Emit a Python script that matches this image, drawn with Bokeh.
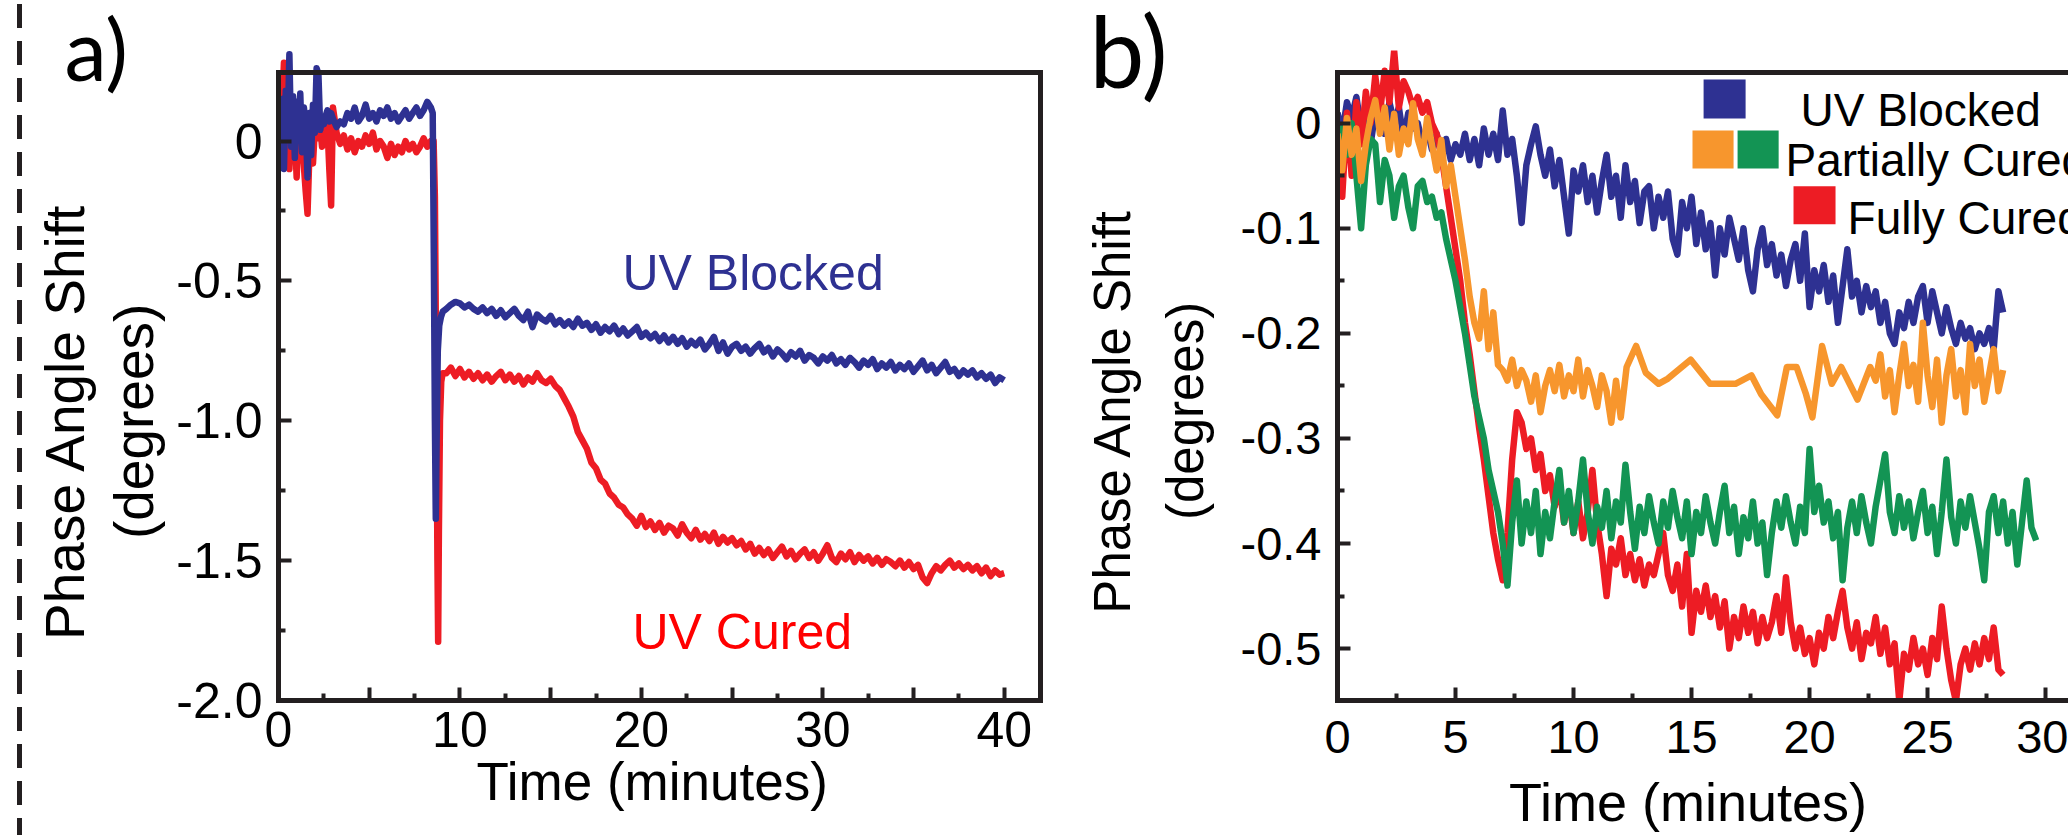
import numpy as np
from bokeh.plotting import figure
from bokeh.models import Label, FixedTicker, LinearAxis, BoxAnnotation, Range1d, Div, Span, Title
from bokeh.layouts import row
from bokeh.embed import file_html
from bokeh.resources import INLINE


def grid(start, step, vals):
    return [round(start + step * i, 4) for i in range(len(vals))]


# ---------------- Panel a data (Time in minutes, phase shift in degrees) ----------------
a_blue_early = [0.05, -0.05, 0.15, -0.10, 0.18, 0.02, 0.31, -0.02, 0.16, -0.06,
                0.14, 0.03, 0.17, -0.04, 0.12, 0.06, -0.13, 0.10, -0.05, 0.13,
                0.03, 0.26, 0.24, 0.04, 0.08, 0.06, 0.09, 0.11, 0.07, 0.10,
                0.08]
a_blue_flat = [0.05, 0.07, 0.06, 0.10, 0.08, 0.12, 0.07, 0.09, 0.13, 0.08,
               0.10, 0.07, 0.11, 0.09, 0.12, 0.08, 0.10, 0.07, 0.09, 0.11,
               0.08, 0.10, 0.12, 0.09, 0.11, 0.14, 0.12]
a_blue_drop_t = [8.5, 8.56, 8.62, 8.67, 8.72, 8.78, 8.86, 8.95, 9.05]
a_blue_drop_v = [0.10, -0.4, -1.0, -1.35, -1.05, -0.75, -0.66, -0.63, -0.61]
a_blue_late = [-0.60, -0.585, -0.575, -0.58, -0.595, -0.585, -0.60, -0.61,
               -0.595, -0.615, -0.60, -0.625, -0.605, -0.63, -0.615, -0.60,
               -0.625, -0.64, -0.61, -0.665, -0.62, -0.635, -0.645, -0.625,
               -0.655, -0.64, -0.66, -0.645, -0.665, -0.635, -0.66, -0.65,
               -0.675, -0.655, -0.685, -0.665, -0.68, -0.66, -0.69, -0.67,
               -0.695, -0.68, -0.665, -0.70, -0.685, -0.705, -0.69, -0.715,
               -0.695, -0.72, -0.70, -0.725, -0.705, -0.735, -0.715, -0.73,
               -0.71, -0.745, -0.725, -0.70, -0.75, -0.72, -0.76, -0.735,
               -0.725, -0.75, -0.735, -0.76, -0.74, -0.725, -0.755, -0.74,
               -0.77, -0.745, -0.76, -0.78, -0.755, -0.77, -0.75, -0.785,
               -0.765, -0.775, -0.795, -0.77, -0.785, -0.765, -0.795, -0.78,
               -0.80, -0.775, -0.79, -0.81, -0.785, -0.80, -0.78, -0.815,
               -0.795, -0.81, -0.79, -0.82, -0.80, -0.815, -0.795, -0.825,
               -0.805, -0.785, -0.82, -0.80, -0.83, -0.81, -0.79, -0.825,
               -0.815, -0.84, -0.82, -0.835, -0.82, -0.845, -0.83, -0.85,
               -0.835, -0.865, -0.845, -0.855]

a_red_early = [0.02, -0.06, 0.12, 0.28, -0.04, 0.06, -0.10, 0.07, -0.03, 0.03,
               -0.13, 0.05, -0.07, 0.02, -0.09, -0.18, -0.26, -0.05, 0.06, -0.08,
               0.04, 0.09, 0.01, 0.05, -0.02, 0.04, 0.00, 0.05, -0.10, -0.23,
               0.12]
a_red_flat = [0.03, -0.01, 0.02, -0.03, 0.01, -0.04, 0.00, -0.02, 0.02, -0.01,
              0.03, -0.03, 0.00, -0.02, -0.06, -0.01, -0.05, -0.02, -0.04, 0.00,
              -0.03, -0.01, -0.04, -0.02, 0.01, -0.02, 0.00]
a_red_drop_t = [8.55, 8.62, 8.7, 8.76, 8.8, 8.84, 8.9, 8.97, 9.05]
a_red_drop_v = [0.0, -0.2, -0.9, -1.5, -1.79, -1.4, -1.0, -0.86, -0.83]
a_red_late = [-0.83, -0.81, -0.84, -0.815, -0.845, -0.825, -0.85, -0.83,
              -0.855, -0.835, -0.86, -0.84, -0.825, -0.855, -0.835, -0.86,
              -0.84, -0.87, -0.845, -0.86, -0.83, -0.855, -0.865, -0.85,
              -0.875, -0.89, -0.92, -0.95, -0.985, -1.04, -1.07, -1.10,
              -1.15, -1.17, -1.21, -1.225, -1.26, -1.275, -1.30, -1.31,
              -1.335, -1.35, -1.375, -1.34, -1.38, -1.36, -1.39, -1.365,
              -1.40, -1.375, -1.385, -1.41, -1.37, -1.40, -1.42, -1.39,
              -1.425, -1.405, -1.43, -1.40, -1.44, -1.415, -1.435, -1.42,
              -1.445, -1.43, -1.46, -1.44, -1.475, -1.455, -1.48, -1.46,
              -1.49, -1.47, -1.45, -1.485, -1.465, -1.495, -1.475, -1.46,
              -1.49, -1.47, -1.50, -1.475, -1.445, -1.49, -1.505, -1.475,
              -1.495, -1.47, -1.505, -1.48, -1.50, -1.485, -1.51, -1.49,
              -1.515, -1.495, -1.505, -1.52, -1.50, -1.525, -1.505, -1.53,
              -1.515, -1.56, -1.58, -1.545, -1.52, -1.535, -1.515, -1.50,
              -1.525, -1.51, -1.53, -1.515, -1.535, -1.52, -1.545, -1.525,
              -1.555, -1.535, -1.55, -1.545]

a_xticks = [0, 5, 10, 15, 20, 25, 30, 35, 40]
a_xlabels = ["0", "", "10", "", "20", "", "30", "", "40"]
a_xminor = [2.5, 7.5, 12.5, 17.5, 22.5, 27.5, 32.5, 37.5]
a_yticks = [0, -0.5, -1.0, -1.5, -2.0]
a_ylabels = ["0", "-0.5", "-1.0", "-1.5", "-2.0"]
a_yminor = [-0.25, -0.75, -1.25, -1.75]

# ---------------- Panel b data ----------------
b_blue = [0.01, -0.01, 0.02, 0.005, 0.025, -0.005, 0.015, -0.02, 0.01, 0.025,
          -0.01, 0.02, 0.0, 0.015, -0.015, 0.01, -0.005, 0.0, -0.02, -0.005,
          -0.025, -0.01, -0.03, -0.015, -0.035, -0.02, -0.03, -0.01, -0.035, -0.015,
          -0.04, -0.005, -0.03, -0.01, -0.035, 0.012, -0.03, -0.015, -0.05, -0.095,
          -0.04, -0.02, -0.003, -0.03, -0.05, -0.025, -0.06, -0.035, -0.07, -0.105,
          -0.045, -0.065, -0.04, -0.075, -0.05, -0.085, -0.055, -0.03, -0.07, -0.05,
          -0.09, -0.04, -0.075, -0.055, -0.095, -0.065, -0.06, -0.1, -0.07, -0.09,
          -0.065, -0.11, -0.125, -0.075, -0.1, -0.07, -0.115, -0.085, -0.12, -0.095,
          -0.145, -0.1, -0.125, -0.09, -0.11, -0.13, -0.1, -0.14, -0.16, -0.12,
          -0.1, -0.135, -0.115, -0.145, -0.125, -0.155, -0.13, -0.115, -0.15, -0.105,
          -0.175, -0.14, -0.16, -0.135, -0.17, -0.145, -0.19, -0.155, -0.12, -0.165,
          -0.15, -0.18, -0.155, -0.175, -0.16, -0.19, -0.17, -0.2, -0.21, -0.18,
          -0.195, -0.17, -0.19, -0.165, -0.155, -0.19, -0.16, -0.18, -0.2, -0.175,
          -0.195, -0.21, -0.19, -0.205, -0.195, -0.215, -0.2, -0.21, -0.195, -0.215,
          -0.16, -0.18]

b_red_early = [-0.01, -0.07, 0.01, -0.05, 0.02, -0.02, 0.03, 0.0, 0.045, 0.01,
               0.05, 0.02, 0.069, 0.015, 0.04, 0.03, 0.015, 0.025, 0.01, 0.02,
               0.0, -0.01, -0.03, -0.06, -0.09]
b_red_late = [-0.12, -0.15, -0.19, -0.22, -0.255, -0.29, -0.32, -0.355, -0.39, -0.415,
              -0.435, -0.39, -0.32, -0.275, -0.285, -0.31, -0.3, -0.33, -0.315, -0.35,
              -0.335, -0.365, -0.345, -0.38, -0.355, -0.39, -0.36, -0.395, -0.37, -0.33,
              -0.38, -0.41, -0.45, -0.405, -0.42, -0.395, -0.43, -0.41, -0.435, -0.415,
              -0.44, -0.42, -0.43, -0.41, -0.39, -0.43, -0.445, -0.42, -0.46, -0.41,
              -0.485, -0.445, -0.465, -0.44, -0.47, -0.45, -0.48, -0.455, -0.5, -0.47,
              -0.49, -0.46, -0.485, -0.465, -0.495, -0.47, -0.49, -0.475, -0.45, -0.485,
              -0.432, -0.475, -0.5, -0.48, -0.505, -0.49, -0.515, -0.485, -0.5, -0.47,
              -0.49, -0.465, -0.445, -0.48, -0.5, -0.475, -0.51, -0.485, -0.495, -0.47,
              -0.505, -0.48, -0.515, -0.495, -0.55, -0.505, -0.52, -0.49, -0.515, -0.5,
              -0.525, -0.49, -0.51, -0.46, -0.5, -0.53, -0.55, -0.515, -0.5, -0.52,
              -0.495, -0.515, -0.49, -0.51, -0.48, -0.52, -0.525]

b_green_early = [-0.02, -0.005, -0.03, 0.0, -0.05, -0.1, -0.04, -0.015, -0.02, -0.075,
                 -0.035, -0.05, -0.09, -0.06, -0.05, -0.08, -0.1, -0.06, -0.055, -0.075,
                 -0.07, -0.09, -0.085, -0.11, -0.13]
b_green_late = [-0.15, -0.175, -0.2, -0.23, -0.26, -0.28, -0.3, -0.33, -0.35, -0.37,
                -0.4, -0.44, -0.38, -0.34, -0.4, -0.36, -0.39, -0.35, -0.41, -0.37,
                -0.395, -0.36, -0.33, -0.38, -0.35, -0.39, -0.36, -0.32, -0.37, -0.4,
                -0.365, -0.385, -0.35, -0.395, -0.36, -0.38, -0.325, -0.37, -0.405, -0.365,
                -0.39, -0.355, -0.38, -0.4, -0.36, -0.385, -0.35, -0.375, -0.395, -0.36,
                -0.41, -0.37, -0.39, -0.355, -0.38, -0.4, -0.37, -0.345, -0.39, -0.365,
                -0.41, -0.375, -0.395, -0.36, -0.4, -0.38, -0.43, -0.39, -0.36, -0.385,
                -0.355, -0.38, -0.4, -0.365, -0.39, -0.31, -0.37, -0.345, -0.38, -0.36,
                -0.395, -0.37, -0.435, -0.385, -0.36, -0.39, -0.355, -0.38, -0.4, -0.365,
                -0.34, -0.315, -0.37, -0.39, -0.355, -0.385, -0.36, -0.395, -0.37, -0.35,
                -0.39, -0.365, -0.41, -0.37, -0.32, -0.375, -0.4, -0.36, -0.385, -0.355,
                -0.38, -0.405, -0.435, -0.37, -0.355, -0.39, -0.36, -0.4, -0.37, -0.42,
                -0.38, -0.34, -0.385, -0.397]

b_orange_early = [-0.01, -0.045, 0.005, -0.03, -0.005, -0.055, -0.02, 0.005, 0.022, -0.01,
                  0.015, -0.025, 0.009, -0.03, -0.005, -0.02, 0.019, -0.015, -0.03, 0.005,
                  -0.02, -0.045, -0.016, -0.06, -0.04, -0.07]
b_orange_mid = [-0.1, -0.13, -0.165, -0.19, -0.205, -0.16, -0.215, -0.18, -0.23, -0.235,
                -0.245, -0.225, -0.25, -0.235, -0.245, -0.265, -0.24, -0.275, -0.25, -0.235,
                -0.255, -0.23, -0.26, -0.24, -0.255, -0.225, -0.26, -0.235, -0.25, -0.27,
                -0.24, -0.255, -0.285, -0.245, -0.28]
b_orange_sparse_t = [12.25, 12.65, 13.06, 13.6, 14.0, 14.96, 15.78, 16.86, 17.54, 17.95,
                     18.63, 19.04, 19.45, 19.85, 20.12, 20.53, 20.94, 21.34, 22.03, 22.57]
b_orange_sparse_v = [-0.232, -0.212, -0.2375, -0.248, -0.243, -0.225, -0.248, -0.248, -0.24, -0.258,
                     -0.278, -0.232, -0.232, -0.258, -0.28, -0.212, -0.248, -0.232, -0.263, -0.232]
b_orange_late = [-0.245, -0.22, -0.26, -0.235, -0.275, -0.24, -0.21, -0.25, -0.23, -0.265,
                 -0.19, -0.24, -0.27, -0.225, -0.285, -0.24, -0.215, -0.26, -0.235, -0.275,
                 -0.21, -0.25, -0.225, -0.265, -0.24, -0.215, -0.255, -0.235]

b_xticks = [0, 5, 10, 15, 20, 25, 30]
b_xlabels = ["0", "5", "10", "15", "20", "25", "30"]
b_xminor = [2.5, 7.5, 12.5, 17.5, 22.5, 27.5]
b_yticks = [0, -0.1, -0.2, -0.3, -0.4, -0.5]
b_ylabels = ["0", "-0.1", "-0.2", "-0.3", "-0.4", "-0.5"]
b_yminor = [-0.05, -0.15, -0.25, -0.35, -0.45]

legend_labels = ["UV Blocked", "Partially Cured", "Fully Cured"]

# ---------------- assemble series ----------------
a_blue_t = grid(0.0, 0.1, a_blue_early) + grid(3.2, 0.2, a_blue_flat) + a_blue_drop_t + grid(9.25, 0.25, a_blue_late)
a_blue_v = a_blue_early + a_blue_flat + a_blue_drop_v + a_blue_late
a_red_t = grid(0.0, 0.1, a_red_early) + grid(3.2, 0.2, a_red_flat) + a_red_drop_t + grid(9.25, 0.25, a_red_late)
a_red_v = a_red_early + a_red_flat + a_red_drop_v + a_red_late

b_blue_t = grid(0.0, 0.2, b_blue)
b_red_t = grid(0.0, 0.2, b_red_early) + grid(5.0, 0.2, b_red_late)
b_red_v = b_red_early + b_red_late
b_green_t = grid(0.0, 0.2, b_green_early) + grid(5.0, 0.2, b_green_late)
b_green_v = b_green_early + b_green_late
b_orange_t = grid(0.0, 0.2, b_orange_early) + grid(5.2, 0.2, b_orange_mid) + b_orange_sparse_t + grid(22.8, 0.2, b_orange_late)
b_orange_v = b_orange_early + b_orange_mid + b_orange_sparse_v + b_orange_late

# ---------------- styling ----------------
FONT = "Liberation Sans"
AX = "#231f20"
BLUE = "#2e3192"
RED = "#ed1c24"
ORANGE = "#f7962d"
GREEN = "#139454"
LW = 6.5
NB = "\u00a0"

A_TOP = 0.245      # value at the drawn top border of panel a
B_TOP = 0.0483     # value at the drawn top border of panel b


def style_axis(ax, size, standoff):
    ax.axis_line_width = 5
    ax.axis_line_color = AX
    ax.axis_line_cap = "square"
    ax.major_tick_in = 13
    ax.major_tick_out = 0
    ax.minor_tick_in = 7
    ax.minor_tick_out = 0
    ax.major_tick_line_width = 4
    ax.minor_tick_line_width = 4
    ax.major_tick_line_color = AX
    ax.minor_tick_line_color = AX
    ax.major_label_text_font = FONT
    ax.major_label_text_font_size = f"{size}px"
    ax.major_label_text_color = "black"
    ax.major_label_standoff = standoff


def style_title(ax, text, size, standoff, line_height=1.2):
    ax.axis_label = text
    ax.axis_label_text_font = FONT
    ax.axis_label_text_font_size = f"{size}px"
    ax.axis_label_text_font_style = "normal"
    ax.axis_label_text_color = "black"
    ax.axis_label_standoff = standoff
    ax.axis_label_text_line_height = line_height


def panel_tag(p, text, size, offset, tag_standoff, spacer_standoff):
    p.title.text = ""
    tag = Title(text=text, text_font="Lato", text_font_size=f"{size}px",
                text_font_style="normal", text_color="black", align="left",
                vertical_align="top", offset=offset, standoff=tag_standoff)
    p.add_layout(tag, "above")
    # outer spacer: pushes the tag a little below the canvas top
    spacer = Title(text=" ", text_font_size="10px", standoff=spacer_standoff)
    p.add_layout(spacer, "above")


def lab(p, x, y, text, size, color="black"):
    p.add_layout(Label(x=x, y=y, text=text, text_font=FONT, text_font_size=f"{size}px",
                       text_color=color, text_align="left", text_baseline="alphabetic"))


# dashed separator strip on the far left
strip = Div(text="", width=30, height=835, margin=0,
            styles={"background-image": "linear-gradient(to bottom, #231f20 24px, transparent 24px)",
                    "background-size": "5px 37px",
                    "background-repeat": "repeat-y",
                    "background-position": "17px 4px"})

# ---------------- panel a ----------------
pa = figure(width=1030, height=835, x_range=Range1d(0, 42), y_range=Range1d(-2.0, 0.3237),
            output_backend="svg", toolbar_location=None,
            min_border_left=248, min_border_right=20, min_border_top=50, min_border_bottom=135)
pa.grid.visible = False
pa.outline_line_color = None
pa.xaxis.ticker = FixedTicker(ticks=a_xticks, minor_ticks=a_xminor)
pa.xaxis.major_label_overrides = dict(zip(a_xticks, a_xlabels))
pa.yaxis.ticker = FixedTicker(ticks=a_yticks, minor_ticks=a_yminor)
pa.yaxis.major_label_overrides = dict(zip(a_yticks, a_ylabels))
pa.yaxis.bounds = (-2.0, A_TOP)
style_axis(pa.xaxis[0], 50, 11)
style_axis(pa.yaxis[0], 50, 16)
style_title(pa.xaxis[0], "Time (minutes)" + NB, 53, 2)
style_title(pa.yaxis[0], "Phase Angle Shift" + NB * 6 + "\n(degrees)" + NB * 6, 55, 8, 1.12)
right_a = LinearAxis(ticker=FixedTicker(ticks=[]), bounds=(-2.0, A_TOP), axis_line_width=5,
                     axis_line_color=AX, axis_line_cap="square",
                     major_tick_line_color=None, minor_tick_line_color=None,
                     major_label_text_font_size="0px")
pa.add_layout(right_a, "right")
pa.add_layout(Span(location=A_TOP, dimension="width", line_color=AX, line_width=5))
panel_tag(pa, "a)", 85, -214, -100, 10)

pa.line(a_red_t, a_red_v, line_color=RED, line_width=LW, line_join="round")
pa.line(a_blue_t, a_blue_v, line_color=BLUE, line_width=LW, line_join="round")

lab(pa, 18.96, -0.471, "UV Blocked", 50, BLUE)
lab(pa, 19.51, -1.754, "UV Cured", 50, "#ff0000")

# ---------------- panel b ----------------
pb = figure(width=1008, height=835, x_range=Range1d(0, 30.97), y_range=Range1d(-0.5494, 0.0692),
            output_backend="svg", toolbar_location=None,
            min_border_left=277, min_border_right=0, min_border_top=50, min_border_bottom=134)
pb.grid.visible = False
pb.outline_line_color = None
pb.xaxis.ticker = FixedTicker(ticks=b_xticks, minor_ticks=b_xminor)
pb.xaxis.major_label_overrides = dict(zip(b_xticks, b_xlabels))
pb.yaxis.ticker = FixedTicker(ticks=b_yticks, minor_ticks=b_yminor)
pb.yaxis.major_label_overrides = dict(zip(b_yticks, b_ylabels))
pb.yaxis.bounds = (-0.5494, B_TOP)
style_axis(pb.xaxis[0], 47, 20)
style_axis(pb.yaxis[0], 47, 16)
style_title(pb.xaxis[0], "Time (minutes)" + NB * 2, 54, 16)
style_title(pb.yaxis[0], "Phase Angle Shift" + NB * 5 + "\n(degrees)" + NB * 5, 51, 24, 1.27)
pb.add_layout(Span(location=B_TOP, dimension="width", line_color=AX, line_width=5))
panel_tag(pb, "b)", 98, -248, -120, 8)

pb.line(b_blue_t, b_blue, line_color=BLUE, line_width=LW, line_join="round")
pb.line(b_red_t, b_red_v, line_color=RED, line_width=LW, line_join="round")
pb.line(b_green_t, b_green_v, line_color=GREEN, line_width=LW, line_join="round")
pb.line(b_orange_t, b_orange_v, line_color=ORANGE, line_width=LW, line_join="round")

# legend swatches and texts
for (l, r, t, b, c) in [(15.51, 17.29, 0.0416, 0.0046, BLUE),
                        (15.04, 16.78, -0.0069, -0.0430, ORANGE),
                        (16.95, 18.69, -0.0069, -0.0430, GREEN),
                        (19.32, 21.10, -0.0601, -0.0962, RED)]:
    pb.add_layout(BoxAnnotation(left=l, right=r, top=t, bottom=b, fill_color=c,
                                fill_alpha=1.0, line_color=None))
lab(pb, 19.62, 0.0122, legend_labels[0], 46)
lab(pb, 18.98, -0.0353, legend_labels[1], 46)
lab(pb, 21.61, -0.0905, legend_labels[2], 46)

layout = row(strip, pa, pb)
open("out.html", "w").write(file_html(layout, INLINE))
